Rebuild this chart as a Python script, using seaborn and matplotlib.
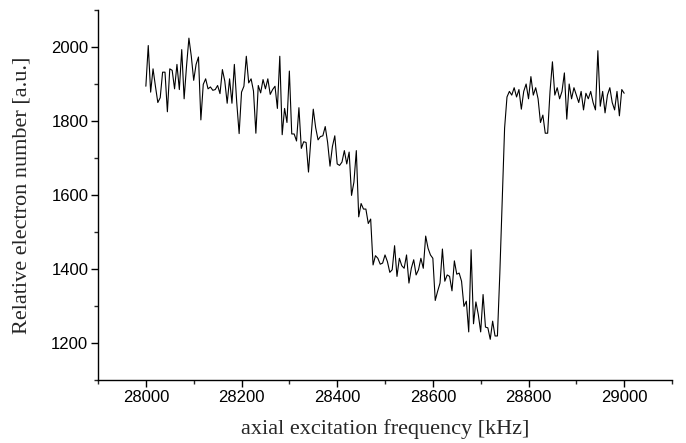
import numpy as np
import pandas as pd
import matplotlib
matplotlib.use("Agg")
import matplotlib.pyplot as plt
import seaborn as sns
from matplotlib.ticker import MultipleLocator

# frequency grid (kHz), 5 kHz steps from 28000 to 29000
freq_start = 28000
freq_step = 5

signal_part1 = [1894, 2004, 1878, 1941, 1894, 1850, 1863, 1932, 1932, 1825,
                1941, 1937, 1887, 1953, 1885, 1993, 1860, 1948, 2024, 1975,
                1910, 1953, 1973, 1803, 1899, 1914, 1887, 1892, 1883, 1885,
                1896, 1874, 1939, 1908, 1848, 1914, 1848, 1953, 1850, 1766,
                1878, 1894, 1975, 1903, 1914, 1881, 1767, 1896, 1876, 1912,
                1887, 1914, 1872, 1885, 1894, 1834, 1975, 1763, 1834, 1796,
                1935, 1765, 1765, 1746, 1836, 1726, 1744, 1742, 1662, 1751,
                1832, 1782, 1749, 1758, 1760, 1785, 1742, 1678, 1731, 1760,
                1684]
signal_part2 = [1680, 1689, 1720, 1684, 1716, 1599, 1635, 1720, 1541, 1577,
                1562, 1562, 1523, 1535, 1411, 1436, 1429, 1413, 1416, 1438,
                1420, 1391, 1398, 1463, 1380, 1429, 1409, 1402, 1438, 1362,
                1402, 1425, 1384, 1398, 1429, 1402, 1489, 1456, 1438, 1429,
                1315, 1340, 1362, 1454, 1367, 1384, 1380, 1341, 1422, 1386,
                1389, 1367, 1299, 1313, 1230, 1452, 1252, 1311, 1277, 1230,
                1331, 1243, 1241, 1210, 1259, 1219, 1219, 1387, 1584, 1781]
signal_part3 = [1865, 1880, 1870, 1890, 1865, 1885, 1832, 1880, 1900, 1860,
                1920, 1870, 1890, 1860, 1796, 1816, 1767, 1767, 1880, 1960,
                1870, 1890, 1860, 1880, 1930, 1805, 1900, 1860, 1890, 1870,
                1850, 1880, 1830, 1875, 1860, 1880, 1850, 1830, 1990, 1840,
                1880, 1822, 1870, 1890, 1850, 1830, 1880, 1814, 1885, 1875]

electrons = signal_part1 + signal_part2 + signal_part3
frequency = [freq_start + freq_step * i for i in range(len(electrons))]

x_label = "axial excitation frequency [kHz]"
y_label = "Relative electron number [a.u.]"

df = pd.DataFrame({"freq": frequency, "electrons": electrons})

sns.set_style("ticks")
plt.rcParams["font.family"] = ["Liberation Sans", "DejaVu Sans"]

fig = plt.figure(figsize=(6.86, 4.43), dpi=100)
ax = fig.add_axes([0.1429, 0.1422, 0.9796 - 0.1429, 0.9774 - 0.1422])

sns.lineplot(data=df, x="freq", y="electrons", ax=ax, color="black",
             linewidth=0.8, estimator=None)

ax.set_xlim(27900, 29100)
ax.set_ylim(1100, 2100)
ax.xaxis.set_major_locator(MultipleLocator(200))
ax.xaxis.set_minor_locator(MultipleLocator(100))
ax.yaxis.set_major_locator(MultipleLocator(200))
ax.yaxis.set_minor_locator(MultipleLocator(100))
ax.tick_params(which="major", direction="out", length=5, width=1,
               labelsize=12, colors="black", pad=2)
ax.tick_params(which="minor", direction="out", length=3, width=1)

for s in ["top", "right"]:
    ax.spines[s].set_visible(False)
for s in ["left", "bottom"]:
    ax.spines[s].set_linewidth(1)
    ax.spines[s].set_color("black")

ax.set_xlabel(x_label, family="Liberation Serif", fontsize=16, labelpad=10)
ax.set_ylabel(y_label, family="Liberation Serif", fontsize=16, labelpad=14)

fig.savefig("out.png", dpi=100)
